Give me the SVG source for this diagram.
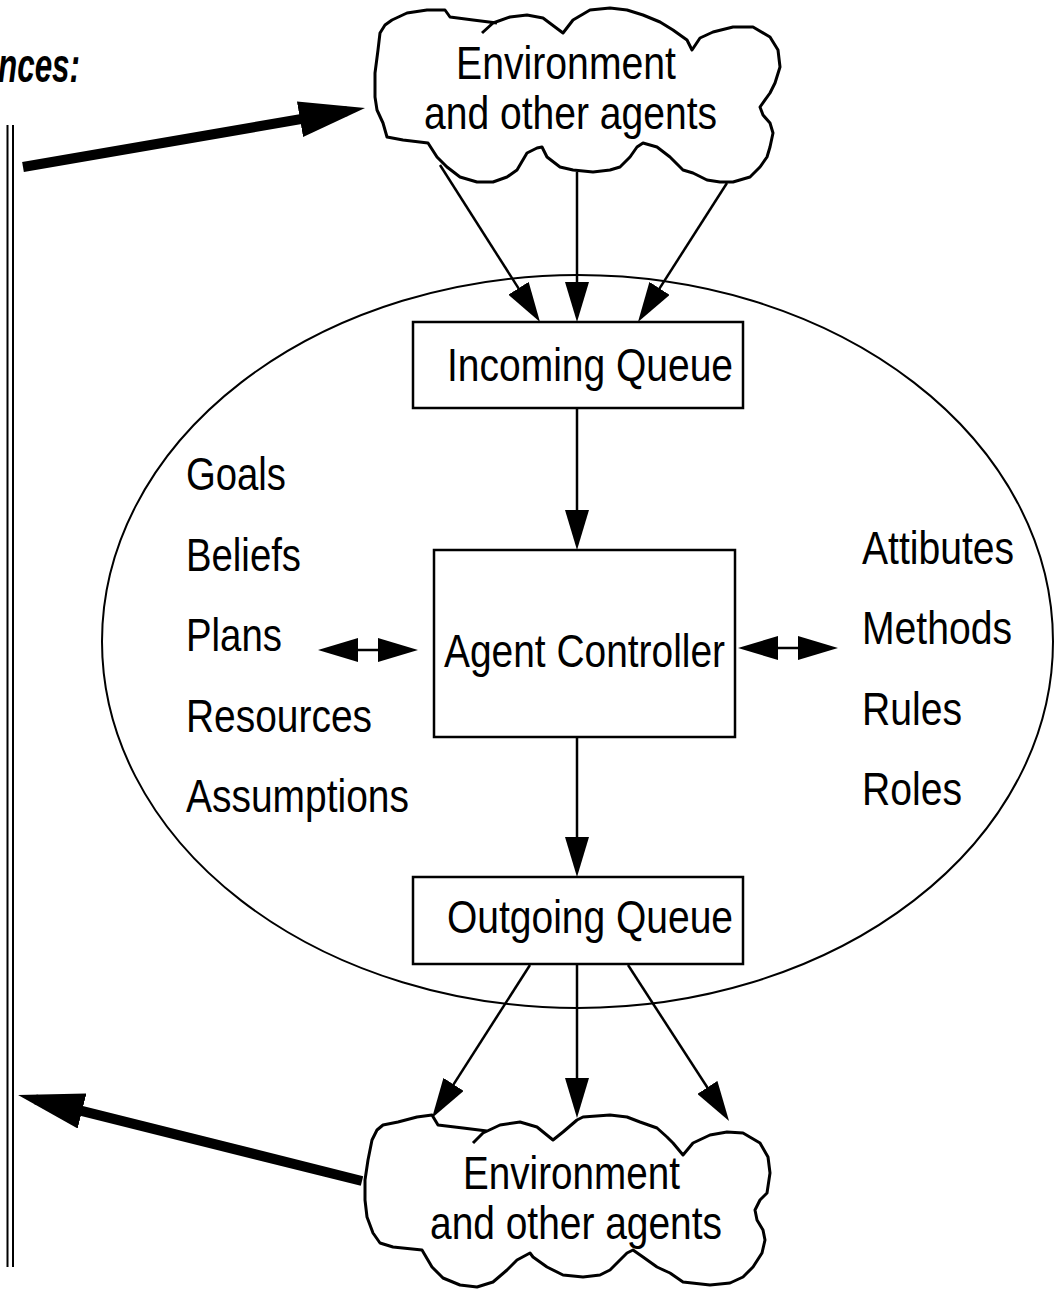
<svg xmlns="http://www.w3.org/2000/svg" width="1061" height="1289" viewBox="0 0 1061 1289">
  <style>
    .lbl { font-family: "Liberation Sans Narrow", "Liberation Sans", Arial, sans-serif; font-size: 46px; fill: #000; }
    .head { font-family: "Liberation Sans Narrow", "Liberation Sans", Arial, sans-serif; font-size: 48px; font-weight: bold; font-style: italic; fill: #000; }
    .box { fill: #fff; stroke: #000; stroke-width: 2.5; }
    .cloud { fill: #fff; stroke: #000; stroke-width: 3; stroke-linejoin: round; }
    .thin { stroke: #000; stroke-width: 2.5; fill: none; }
    .thick { stroke: #000; stroke-width: 10; fill: none; }
  </style>
  <defs>
    <marker id="ah" markerUnits="userSpaceOnUse" markerWidth="40" markerHeight="24" refX="32" refY="12" orient="auto-start-reverse" viewBox="0 0 40 24">
      <path d="M0,0 L40,12 L0,24 z" fill="#000"/>
    </marker>
    <marker id="ahBig" markerUnits="userSpaceOnUse" markerWidth="66" markerHeight="36" refX="48" refY="18" orient="auto" viewBox="0 0 66 36">
      <path d="M0,0 L66,18 L0,36 z" fill="#000"/>
    </marker>
  </defs>

  <!-- partly visible heading -->
  <text class="head" x="80" y="82" text-anchor="end" textLength="82" lengthAdjust="spacingAndGlyphs">nces:</text>

  <!-- double rule on the left -->
  <g id="rule">
    <line x1="7.5" y1="125" x2="7.5" y2="1267" stroke="#000" stroke-width="2"/>
    <line x1="13" y1="125" x2="13" y2="1267" stroke="#000" stroke-width="2"/>
  </g>

  <!-- agent boundary -->
  <g id="agent">
    <ellipse cx="577.5" cy="641.5" rx="475.5" ry="366.5" fill="none" stroke="#000" stroke-width="2"/>
  </g>

  <!-- environment above -->
  <g id="env-top">
    <path class="cloud" d="M482,33 L493,23 L510,17 L527,15 L543,18 L563,33 L573,20 L590,10 L610,8 L627,10 L643,15 L660,22 L673,30 L687,40 L692,50 L700,38 L713,32 L733,27 L753,27 L770,37 L778,50 L780,67 L775,83 L770,93 L760,107 L763,115 L770,123 L773,133 L770,147 L767,157 L760,167 L750,177 L733,182 L720,182 L707,180 L693,173 L683,170 L670,157 L657,147 L643,143 L637,147 L630,157 L620,167 L610,170 L593,172 L573,170 L560,167 L547,157 L542,147 L537,148 L527,153 L517,170 L507,177 L493,182 L477,182 L460,177 L447,167 L437,157 L428,143 L403,140 L387,137 L383,123 L377,110 L375,97 L375,73 L378,50 L380,33 L385,25 L392,20 L407,13 L427,10 L445,10 L450,17 L473,20 L497,23"/>
    <text class="lbl" x="456" y="79" textLength="220" lengthAdjust="spacingAndGlyphs">Environment</text>
    <text class="lbl" x="424" y="129" textLength="293" lengthAdjust="spacingAndGlyphs">and other agents</text>
  </g>

  <!-- environment below -->
  <g id="env-bottom">
    <path class="cloud" d="M473,1143 L483,1133 L500,1125 L520,1122 L537,1127 L553,1140 L563,1132 L577,1120 L583,1117 L610,1115 L627,1117 L640,1122 L657,1128 L667,1137 L673,1143 L683,1155 L693,1143 L710,1135 L727,1132 L743,1133 L760,1143 L768,1157 L770,1173 L767,1193 L760,1200 L755,1210 L757,1220 L763,1230 L765,1240 L762,1253 L753,1267 L743,1277 L730,1283 L710,1285 L683,1282 L670,1273 L657,1267 L643,1257 L633,1250 L627,1253 L617,1263 L610,1270 L600,1275 L583,1277 L563,1275 L547,1267 L533,1257 L530,1253 L517,1260 L507,1270 L493,1282 L477,1287 L460,1285 L443,1278 L432,1267 L422,1250 L393,1247 L380,1243 L373,1233 L367,1217 L365,1200 L365,1180 L368,1160 L372,1140 L377,1130 L383,1125 L398,1122 L417,1117 L432,1115 L438,1125 L463,1128 L487,1131"/>
    <text class="lbl" x="463" y="1189" textLength="217" lengthAdjust="spacingAndGlyphs">Environment</text>
    <text class="lbl" x="430" y="1239" textLength="292" lengthAdjust="spacingAndGlyphs">and other agents</text>
  </g>

  <g id="incoming-queue">
    <rect class="box" x="413" y="322" width="330" height="86"/>
    <text class="lbl" x="447" y="381" textLength="286" lengthAdjust="spacingAndGlyphs">Incoming Queue</text>
  </g>

  <g id="agent-controller">
    <rect class="box" x="434" y="550" width="301" height="187"/>
    <text class="lbl" x="444" y="667" textLength="281" lengthAdjust="spacingAndGlyphs">Agent Controller</text>
  </g>

  <g id="outgoing-queue">
    <rect class="box" x="413" y="877" width="330" height="87"/>
    <text class="lbl" x="447" y="933" textLength="286" lengthAdjust="spacingAndGlyphs">Outgoing Queue</text>
  </g>

  <g id="mental-state">
    <text class="lbl" x="186" y="490" textLength="100" lengthAdjust="spacingAndGlyphs">Goals</text>
    <text class="lbl" x="186" y="571" textLength="115" lengthAdjust="spacingAndGlyphs">Beliefs</text>
    <text class="lbl" x="186" y="651" textLength="96" lengthAdjust="spacingAndGlyphs">Plans</text>
    <text class="lbl" x="186" y="732" textLength="186" lengthAdjust="spacingAndGlyphs">Resources</text>
    <text class="lbl" x="186" y="812" textLength="223" lengthAdjust="spacingAndGlyphs">Assumptions</text>
  </g>

  <g id="object-model">
    <text class="lbl" x="862" y="564" textLength="152" lengthAdjust="spacingAndGlyphs">Attibutes</text>
    <text class="lbl" x="862" y="644" textLength="150" lengthAdjust="spacingAndGlyphs">Methods</text>
    <text class="lbl" x="862" y="725" textLength="100" lengthAdjust="spacingAndGlyphs">Rules</text>
    <text class="lbl" x="862" y="805" textLength="100" lengthAdjust="spacingAndGlyphs">Roles</text>
  </g>

  <g id="connectors">
    <line class="thin" x1="440" y1="165" x2="535.7" y2="315.3" marker-end="url(#ah)"/>
    <line class="thin" x1="577" y1="172" x2="577" y2="314" marker-end="url(#ah)"/>
    <line class="thin" x1="727" y1="183" x2="642.3" y2="315.3" marker-end="url(#ah)"/>
    <line class="thin" x1="577" y1="408" x2="577" y2="542" marker-end="url(#ah)"/>
    <line class="thin" x1="577" y1="737" x2="577" y2="869" marker-end="url(#ah)"/>
    <line class="thin" x1="530" y1="965" x2="436.3" y2="1111.3" marker-end="url(#ah)"/>
    <line class="thin" x1="577" y1="965" x2="577" y2="1110" marker-end="url(#ah)"/>
    <line class="thin" x1="628" y1="965" x2="724.7" y2="1114.3" marker-end="url(#ah)"/>
    <line class="thin" x1="326" y1="650" x2="410" y2="650" marker-start="url(#ah)" marker-end="url(#ah)"/>
    <line class="thin" x1="746" y1="648" x2="830" y2="648" marker-start="url(#ah)" marker-end="url(#ah)"/>
    <line class="thick" x1="23" y1="167" x2="347.3" y2="111.1" marker-end="url(#ahBig)"/>
    <line class="thick" x1="362" y1="1181" x2="35.5" y2="1099.4" marker-end="url(#ahBig)"/>
  </g>
</svg>
